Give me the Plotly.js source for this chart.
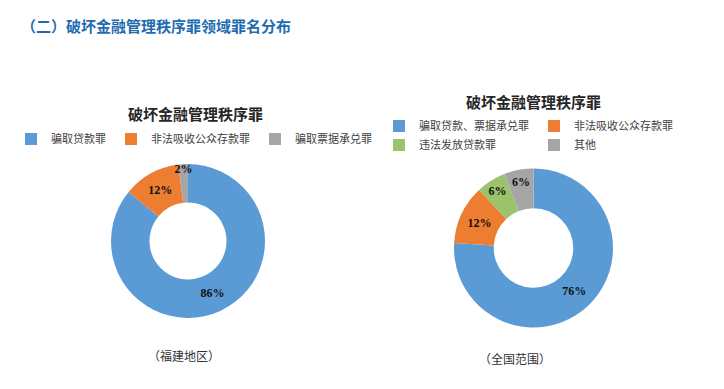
<!DOCTYPE html>
<html>
<head>
<meta charset="utf-8">
<script src="https://cdn.plot.ly/plotly-3.0.1.min.js"></script>
<style>html,body{margin:0;padding:0;background:#fff;}#chart{width:724px;height:389px;}</style>
</head>
<body>
<div id="chart"></div>
<script>
// Data
const leftLabels = ['骗取贷款罪', '非法吸收公众存款罪', '骗取票据承兑罪'];
const leftValues = [86, 12, 2];
const leftColors = ['#5B9BD5', '#ED7D31', '#A5A5A5'];

const rightLabels = ['骗取贷款、票据承兑罪', '非法吸收公众存款罪', '违法发放贷款罪', '其他'];
const rightValues = [76, 12, 6, 6];
const rightColors = ['#5B9BD5', '#ED7D31', '#9BC36B', '#A5A5A5'];

const mainTitle = '（二）破坏金融管理秩序罪领域罪名分布';
const subTitle = '破坏金融管理秩序罪';
const leftCaption = '（福建地区）';
const rightCaption = '（全国范围）';

const W = 724, H = 389;
const ML = 5, MR = 64, PW = W - ML - MR;
const fx = v => (v - ML) / PW;   // pixel -> plot-area fraction
const fy = v => 1 - v / H;

const cjk = '"Noto Sans CJK SC", "Noto Sans", sans-serif';
const serif = '"Liberation Serif", "DejaVu Serif", serif';

const common = {
  type: 'pie',
  hole: 0.5,
  sort: false,
  direction: 'clockwise',
  rotation: 0,
  textposition: 'inside',
  insidetextorientation: 'horizontal',
  texttemplate: '%{value}%',
  textfont: {family: serif, size: 12, color: '#111', weight: 'bold'},
  hoverinfo: 'label+value'
};

const traces = [
  Object.assign({}, common, {
    labels: leftLabels, values: leftValues,
    marker: {colors: leftColors, line: {width: 0}},
    domain: {x: [fx(111), fx(265)], y: [fy(318), fy(164)]},
    legend: 'legend', legendgroup: 'L'
  }),
  Object.assign({}, common, {
    labels: rightLabels, values: rightValues,
    marker: {colors: rightColors, line: {width: 0}},
    domain: {x: [fx(454), fx(613)], y: [fy(327.5), fy(168.5)]},
    legend: 'legend2', legendgroup: 'R'
  })
];

const legendFont = {family: cjk, size: 11, color: '#404040'};

const layout = {
  width: W, height: H,
  margin: {l: ML, r: MR, t: 0, b: 0, autoexpand: false},
  paper_bgcolor: '#fff',
  plot_bgcolor: '#fff',
  showlegend: true,
  uniformtext: {mode: 'show', minsize: 12},
  title: {
    text: mainTitle,
    x: 21 / W, xanchor: 'left', xref: 'container',
    y: fy(27), yanchor: 'middle', yref: 'container',
    font: {family: cjk, size: 15, color: '#1E6CB0', weight: 'bold'}
  },
  legend: {
    orientation: 'h', x: fx(11), xanchor: 'left', y: fy(139), yanchor: 'middle',
    font: legendFont, bgcolor: 'rgba(0,0,0,0)', itemwidth: 30, traceorder: 'normal'
  },
  legend2: {
    orientation: 'h', x: fx(678), xanchor: 'right', y: fy(135.5), yanchor: 'middle',
    font: legendFont, bgcolor: 'rgba(0,0,0,0)', itemwidth: 30, traceorder: 'normal'
  },
  annotations: [
    {text: subTitle, x: fx(195), y: fy(113), xref: 'paper', yref: 'paper', xanchor: 'center', yanchor: 'middle', showarrow: false,
     font: {family: cjk, size: 15, color: '#262626', weight: 'bold'}},
    {text: subTitle, x: fx(533), y: fy(101), xref: 'paper', yref: 'paper', xanchor: 'center', yanchor: 'middle', showarrow: false,
     font: {family: cjk, size: 15, color: '#262626', weight: 'bold'}},
    {text: leftCaption, x: fx(184), y: fy(355), xref: 'paper', yref: 'paper', xanchor: 'center', yanchor: 'middle', showarrow: false,
     font: {family: cjk, size: 12, color: '#333'}},
    {text: rightCaption, x: fx(515), y: fy(358), xref: 'paper', yref: 'paper', xanchor: 'center', yanchor: 'middle', showarrow: false,
     font: {family: cjk, size: 12, color: '#333'}}
  ]
};

Plotly.newPlot('chart', traces, layout, {displayModeBar: false, staticPlot: true});
</script>
</body>
</html>
